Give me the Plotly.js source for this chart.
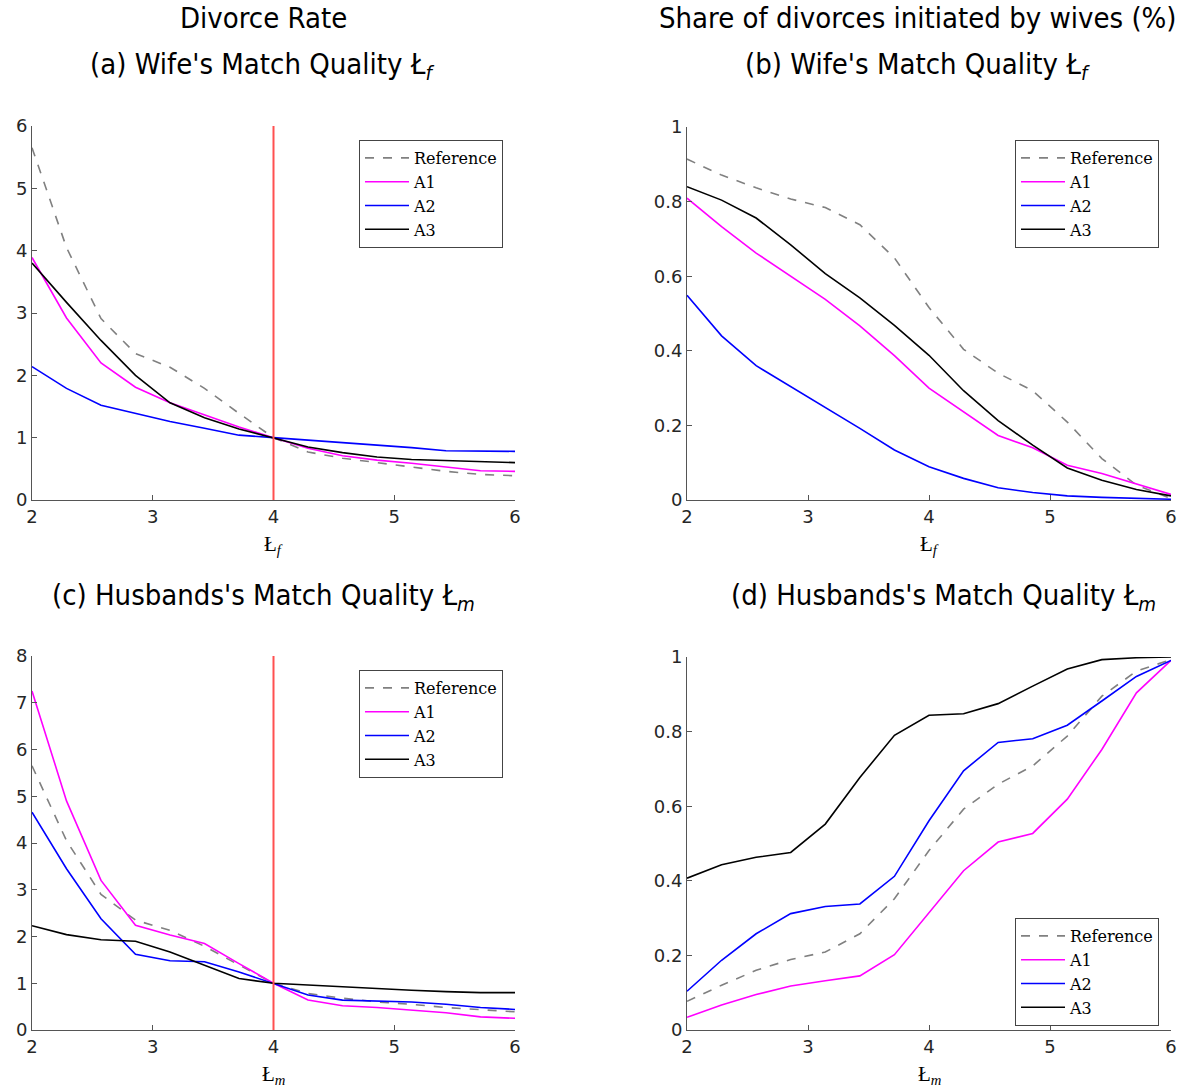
<!DOCTYPE html>
<html>
<head>
<meta charset="utf-8">
<script src="https://cdn.plot.ly/plotly-3.0.1.min.js"></script>
<style>html,body{margin:0;padding:0;background:#fff;}#chart{width:1189px;height:1088px;}</style>
</head>
<body>
<div id="chart"></div>
<script>
// Grid of match-quality values (x axis)
const xVals = [2, 2.2857, 2.5714, 2.8571, 3.1429, 3.4286, 3.7143, 4, 4.2857, 4.5714, 4.8571, 5.1429, 5.4286, 5.7143, 6];
const seriesNames = ["Reference", "A1", "A2", "A3"];

// (a) Divorce rate vs wife's match quality
const aRef = [5.65, 4.05, 2.91, 2.35, 2.13, 1.79, 1.39, 1.0, 0.77, 0.67, 0.6, 0.53, 0.46, 0.41, 0.39];
const aA1  = [3.89, 2.92, 2.2, 1.81, 1.56, 1.36, 1.17, 1.0, 0.83, 0.71, 0.64, 0.59, 0.53, 0.47, 0.46];
const aA2  = [2.14, 1.79, 1.52, 1.39, 1.26, 1.15, 1.04, 1.0, 0.96, 0.93, 0.88, 0.84, 0.79, 0.78, 0.78];
const aA3  = [3.8, 3.17, 2.56, 2.0, 1.56, 1.32, 1.14, 1.0, 0.85, 0.76, 0.69, 0.65, 0.63, 0.61, 0.6];

// (b) Share of divorces initiated by wives vs wife's match quality
const bRef = [0.914, 0.871, 0.837, 0.807, 0.784, 0.738, 0.649, 0.516, 0.404, 0.34, 0.293, 0.209, 0.111, 0.04, 0.004];
const bA1  = [0.809, 0.733, 0.662, 0.6, 0.538, 0.467, 0.387, 0.3, 0.236, 0.173, 0.14, 0.093, 0.071, 0.044, 0.015];
const bA2  = [0.549, 0.44, 0.36, 0.304, 0.25, 0.192, 0.134, 0.089, 0.058, 0.033, 0.02, 0.011, 0.007, 0.004, 0.002];
const bA3  = [0.84, 0.804, 0.756, 0.684, 0.607, 0.542, 0.468, 0.388, 0.293, 0.213, 0.147, 0.086, 0.053, 0.028, 0.011];

// (c) Divorce rate vs husband's match quality
const cRef = [5.65, 4.05, 2.9, 2.35, 2.13, 1.79, 1.39, 1.0, 0.78, 0.68, 0.6, 0.55, 0.48, 0.43, 0.39];
const cA1  = [7.25, 4.9, 3.2, 2.24, 2.03, 1.85, 1.42, 1.0, 0.64, 0.52, 0.48, 0.43, 0.37, 0.28, 0.25];
const cA2  = [4.66, 3.45, 2.38, 1.62, 1.48, 1.46, 1.24, 1.0, 0.75, 0.64, 0.62, 0.6, 0.55, 0.48, 0.44];
const cA3  = [2.23, 2.04, 1.93, 1.9, 1.67, 1.39, 1.1, 1.0, 0.96, 0.92, 0.89, 0.85, 0.82, 0.8, 0.8];

// (d) Share of divorces initiated by wives vs husband's match quality
const dRef = [0.077, 0.12, 0.16, 0.189, 0.209, 0.258, 0.352, 0.481, 0.592, 0.659, 0.708, 0.788, 0.895, 0.962, 0.993];
const dA1  = [0.034, 0.067, 0.095, 0.118, 0.132, 0.145, 0.202, 0.316, 0.427, 0.504, 0.527, 0.619, 0.752, 0.904, 0.991];
const dA2  = [0.104, 0.187, 0.258, 0.312, 0.331, 0.338, 0.412, 0.561, 0.695, 0.771, 0.781, 0.817, 0.882, 0.948, 0.991];
const dA3  = [0.407, 0.443, 0.463, 0.476, 0.552, 0.677, 0.79, 0.844, 0.848, 0.875, 0.922, 0.968, 0.993, 0.998, 1.0];

// Vertical marker at the baseline match quality
const markerX = 4;

const W = 1189, H = 1088;
const px = (a, b) => [a / W, b / W];
const py = (top, bot) => [1 - bot / H, 1 - top / H];

const styles = [
  {color: "#808080", dash: "dash", width: 1.6},
  {color: "#ff00ff", dash: "solid", width: 1.6},
  {color: "#0000ff", dash: "solid", width: 1.6},
  {color: "#000000", dash: "solid", width: 1.6}
];

const panels = [
  {ys: [aRef, aA1, aA2, aA3], xa: "x", ya: "y", leg: "legend"},
  {ys: [bRef, bA1, bA2, bA3], xa: "x2", ya: "y2", leg: "legend2"},
  {ys: [cRef, cA1, cA2, cA3], xa: "x3", ya: "y3", leg: "legend3"},
  {ys: [dRef, dA1, dA2, dA3], xa: "x4", ya: "y4", leg: "legend4"}
];

const traces = [];
panels.forEach(p => {
  p.ys.forEach((y, i) => {
    traces.push({
      type: "scatter", mode: "lines", x: xVals, y: y,
      name: seriesNames[i], xaxis: p.xa, yaxis: p.ya, legend: p.leg,
      line: {color: styles[i].color, dash: styles[i].dash, width: styles[i].width},
      hoverinfo: "skip"
    });
  });
});

const axCol = "#555555";
const tickFont = {family: "DejaVu Sans", size: 18, color: "#262626"};
function xAxis(dom, anchor) {
  return {domain: dom, anchor: anchor, range: [2, 6], tickvals: [2,3,4,5,6], ticks: "inside", ticklen: 5,
    tickcolor: axCol, showline: true, linecolor: axCol, linewidth: 1, showgrid: false, zeroline: false,
    tickfont: tickFont, fixedrange: true};
}
function yAxis(dom, anchor, range, dt) {
  return {domain: dom, anchor: anchor, range: range, dtick: dt, tick0: 0, ticks: "inside", ticklen: 5,
    tickcolor: axCol, showline: true, linecolor: axCol, linewidth: 1, showgrid: false, zeroline: false,
    tickfont: tickFont, fixedrange: true};
}

const legFont = {family: "DejaVu Serif, Liberation Serif, serif", size: 16, color: "#000"};
function legend(xr, yt) {
  return {x: xr / W, y: 1 - yt / H, xanchor: "right", yanchor: "top", bgcolor: "#fff",
    bordercolor: "#444", borderwidth: 1, font: legFont, itemwidth: 44, tracegroupgap: 0};
}

const titleFont = {family: "DejaVu Sans Condensed, sans-serif", size: 29, color: "#000"};
const labFont = {family: "Liberation Serif, DejaVu Serif, serif", size: 21, color: "#000"};
function ann(text, x, y, font) {
  return {text: text, x: x / W, y: 1 - y / H, xref: "paper", yref: "paper", showarrow: false,
    xanchor: "center", yanchor: "middle", font: font};
}

const layout = {
  width: W, height: H, margin: {l: 0, r: 0, t: 0, b: 0},
  paper_bgcolor: "#fff", plot_bgcolor: "#fff",
  xaxis: xAxis(px(32, 515), "y"),
  yaxis: yAxis(py(126, 500), "x", [0, 6], 1),
  xaxis2: xAxis(px(687, 1171), "y2"),
  yaxis2: yAxis(py(127, 500), "x2", [0, 1], 0.2),
  xaxis3: xAxis(px(32, 515), "y3"),
  yaxis3: yAxis(py(656, 1030), "x3", [0, 8], 1),
  xaxis4: xAxis(px(687, 1171), "y4"),
  yaxis4: yAxis(py(657, 1030), "x4", [0, 1], 0.2),
  legend: legend(503, 140),
  legend2: legend(1159, 140),
  legend3: legend(503, 670),
  legend4: legend(1159, 918),
  shapes: [
    {type: "line", xref: "x", yref: "y domain", x0: markerX, x1: markerX, y0: 0, y1: 1, line: {color: "#ff5050", width: 2}},
    {type: "line", xref: "x3", yref: "y3 domain", x0: markerX, x1: markerX, y0: 0, y1: 1, line: {color: "#ff5050", width: 2}}
  ],
  annotations: [
    ann("Divorce Rate", 263, 18, titleFont),
    ann("(a) Wife's Match Quality Ł<sub><i>f</i></sub>", 262, 66, titleFont),
    ann("Share of divorces initiated by wives (%)", 918, 18, titleFont),
    ann("(b) Wife's Match Quality Ł<sub><i>f</i></sub>", 918, 66, titleFont),
    ann("(c) Husbands's Match Quality Ł<sub><i>m</i></sub>", 263, 597, titleFont),
    ann("(d) Husbands's Match Quality Ł<sub><i>m</i></sub>", 943, 597, titleFont),
    ann("Ł<sub><i>f</i></sub>", 273, 545, labFont),
    ann("Ł<sub><i>f</i></sub>", 929, 545, labFont),
    ann("Ł<sub><i>m</i></sub>", 273, 1075, labFont),
    ann("Ł<sub><i>m</i></sub>", 929, 1075, labFont)
  ],
  showlegend: true
};

Plotly.newPlot("chart", traces, layout, {staticPlot: true, displayModeBar: false});
</script>
</body>
</html>
